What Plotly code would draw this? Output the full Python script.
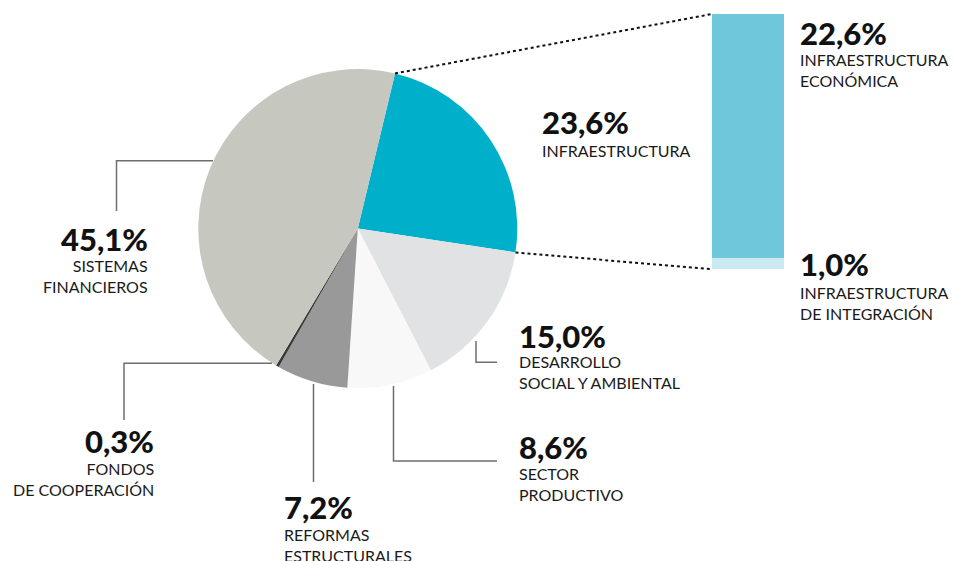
import math
import plotly.graph_objects as go

# ---------------- data ----------------
categories = ["INFRAESTRUCTURA", "DESARROLLO<br>SOCIAL Y AMBIENTAL", "SECTOR<br>PRODUCTIVO",
              "REFORMAS<br>ESTRUCTURALES", "FONDOS<br>DE COOPERACIÓN", "SISTEMAS<br>FINANCIEROS"]
values = [23.6, 15.0, 8.6, 7.2, 0.3, 45.1]
pct_labels = ["23,6%", "15,0%", "8,6%", "7,2%", "0,3%", "45,1%"]
slice_colors = ["#00B0CB", "#E1E2E4", "#F8F8F8", "#999999", "#3A3A3A", "#C6C7BE"]

infra_parts = ["INFRAESTRUCTURA<br>DE INTEGRACIÓN", "INFRAESTRUCTURA<br>ECONÓMICA"]
infra_values = [1.0, 22.6]
infra_pct = ["1,0%", "22,6%"]
infra_colors = ["#CBE9F0", "#6FC7DC"]

W, H = 953, 561
FONT = "Lato"

# pie geometry (pixels)
cx, cy, R = 357.8, 228.5, 159.5
rotation = 13.5

def px(x):
    return x / W

def py(y):
    return 1 - y / H

fig = go.Figure()

fig.add_trace(go.Pie(
    labels=[c.replace("<br>", " ") for c in categories],
    values=values,
    sort=False,
    direction="clockwise",
    rotation=rotation,
    marker=dict(colors=slice_colors, line=dict(width=0)),
    textinfo="none",
    hoverinfo="label+percent",
    showlegend=False,
    domain=dict(x=[px(cx - R), px(cx + R)], y=[py(cy + R), py(cy - R)]),
))

# stacked bar for the infrastructure breakdown
for name, v, col in zip(infra_parts, infra_values, infra_colors):
    fig.add_trace(go.Bar(
        x=["infra"], y=[v], name=name.replace("<br>", " "),
        marker=dict(color=col, line=dict(width=0)),
        showlegend=False, xaxis="x", yaxis="y",
    ))

bar_left, bar_right, bar_top, bar_bottom = 712, 784, 14, 269.3

fig.update_layout(
    width=W, height=H,
    margin=dict(l=0, r=0, t=0, b=0),
    paper_bgcolor="white", plot_bgcolor="rgba(0,0,0,0)",
    barmode="stack", bargap=0,
    xaxis=dict(domain=[px(bar_left), px(bar_right)], range=[-0.5, 0.5],
               visible=False, fixedrange=True),
    yaxis=dict(domain=[py(bar_bottom), py(bar_top)], range=[0, sum(infra_values)],
               visible=False, fixedrange=True),
    font=dict(family=FONT),
)

# dotted connector lines from the infrastructure slice to the bar
total = sum(values)
a0 = math.radians(rotation)
a1 = math.radians(rotation + values[0] / total * 360)
p0 = (cx + R * math.sin(a0), cy - R * math.cos(a0))
p1 = (cx + R * math.sin(a1), cy - R * math.cos(a1))
for (sx, sy), (ex, ey) in [(p0, (bar_left, bar_top)), (p1, (bar_left, bar_bottom))]:
    fig.add_shape(type="line", xref="paper", yref="paper",
                  x0=px(sx), y0=py(sy), x1=px(ex), y1=py(ey),
                  line=dict(color="#111111", width=2, dash="dot"))

# leader lines (pixel paths)
LC = "#6E6E6E"
leaders = [
    [(213, 160.7), (116.5, 160.7), (116.5, 211)],        # sistemas
    [(272, 363.3), (124, 363.3), (124, 420)],            # fondos
    [(313.5, 384), (313.5, 482)],                        # reformas
    [(393.5, 386), (393.5, 461), (497, 461)],            # sector
    [(476, 341), (476, 362.3), (497, 362.3)],            # desarrollo
]
for pts in leaders:
    path = "M " + " L ".join(f"{px(x):.5f},{py(y):.5f}" for x, y in pts)
    fig.add_shape(type="path", xref="paper", yref="paper", path=path,
                  line=dict(color=LC, width=1.5))

PCT_SIZE = 31
DESC_SIZE = 16
# label placement: (x, anchor, pct center y, desc center y)
place = {
    0: (540, "left", 122, 150.5),
    1: (517, "left", 336, 371.5),
    2: (517, "left", 447, 484),
    3: (282, "left", 507, 545),
    4: (156, "right", 441, 479),
    5: (150, "right", 238.7, 275.5),
}

def add_label(x, anchor, ycp, ycd, pct, desc):
    fig.add_annotation(xref="paper", yref="paper", x=px(x), y=py(ycp),
                       xanchor=anchor, yanchor="middle", showarrow=False,
                       text=pct, align=anchor,
                       font=dict(family=FONT, size=PCT_SIZE, color="#111111", weight=900))
    fig.add_annotation(xref="paper", yref="paper", x=px(x), y=py(ycd),
                       xanchor=anchor, yanchor="middle", showarrow=False,
                       text=desc, align=anchor,
                       font=dict(family=FONT, size=DESC_SIZE, color="#1A1A1A"))

for i in range(len(values)):
    x, anc, ycp, ycd = place[i]
    add_label(x, anc, ycp, ycd, pct_labels[i], categories[i])

infra_place = [(798, "left", 263.7, 302.5), (798, "left", 32.7, 69.7)]
for i in range(2):
    x, anc, ycp, ycd = infra_place[i]
    add_label(x, anc, ycp, ycd, infra_pct[i], infra_parts[i])

fig.write_html("out.html", config={"displayModeBar": False},
               post_script="document.body.style.margin='0';document.body.style.overflow='hidden';")
